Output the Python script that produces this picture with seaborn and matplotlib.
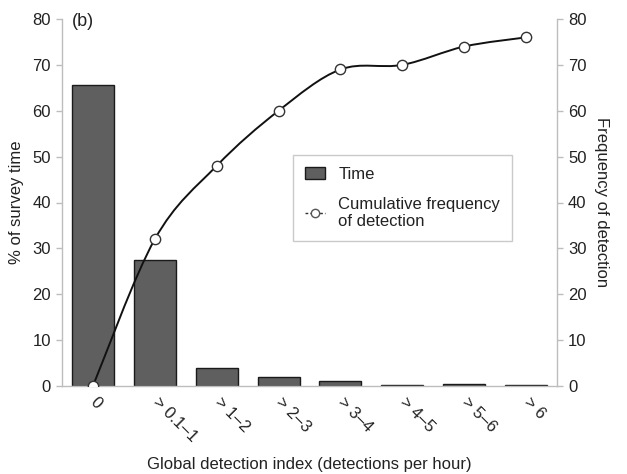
import numpy as np
import pandas as pd
import matplotlib
matplotlib.use("Agg")
import matplotlib.pyplot as plt
from matplotlib.path import Path
from matplotlib.patches import PathPatch, Patch
from matplotlib.lines import Line2D
import seaborn as sns

categories = ["0", "> 0.1\u20131", "> 1\u20132", "> 2\u20133", "> 3\u20134", "> 4\u20135", "> 5\u20136", "> 6"]
time_pct = [65.6, 27.4, 3.9, 1.9, 1.1, 0.2, 0.4, 0.2]
cum_freq = [0, 32, 48, 60, 69, 70, 74, 76]
y_ticks = [0, 10, 20, 30, 40, 50, 60, 70, 80]

sns.set_theme(style="white")
plt.rcParams["font.family"] = ["Liberation Sans", "DejaVu Sans"]
TXT = "#222222"
SPINE = "#bdbdbd"
FS = 12

fig = plt.figure(figsize=(6.27, 4.74), dpi=100)
ax = fig.add_axes([62/627, 1-386/474, 495/627, 367/474])

df = pd.DataFrame({"cat": categories, "time": time_pct})
sns.barplot(data=df, x="cat", y="time", ax=ax, color="#5f5f5f", width=0.68,
            edgecolor="#1a1a1a", linewidth=1.0, saturation=1)
ax.set_xlim(-0.5, len(categories) - 0.5)
ax.set_ylim(0, 80)
ax.set_yticks(y_ticks)
ax.set_yticklabels([str(v) for v in y_ticks], fontsize=FS, color=TXT)

ax.set_xticks(np.arange(len(categories)))
ax.set_xticklabels(categories, rotation=-45, ha="left", va="center",
                   rotation_mode="anchor", fontsize=FS, color=TXT)
ax.tick_params(axis="x", length=0, pad=10)
ax.set_xticks(np.arange(len(categories) + 1) - 0.5, minor=True)
ax.tick_params(axis="x", which="minor", length=4, width=1, color=SPINE, direction="inout")
ax.tick_params(axis="y", length=4, width=1, color=SPINE, direction="out", pad=4)

for s in ["top", "right"]:
    ax.spines[s].set_visible(False)
for s in ["left", "bottom"]:
    ax.spines[s].set_color(SPINE)
    ax.spines[s].set_linewidth(1)

ax.set_xlabel("Global detection index (detections per hour)", fontsize=FS, color=TXT)
ax.xaxis.set_label_coords(0.5, -0.215, transform=ax.transAxes)
ax.xaxis.label.set_va("center")
ax.set_ylabel("% of survey time", fontsize=FS, color=TXT, labelpad=6)
ax.text(0.02, 1.015, "(b)", transform=ax.transAxes, fontsize=13, color=TXT, va="top", ha="left")

ax2 = ax.twinx()
ax2.set_ylim(0, 80)
ax2.set_yticks(y_ticks)
ax2.set_yticklabels([str(v) for v in y_ticks], fontsize=FS, color=TXT)
ax2.tick_params(axis="y", length=4, width=1, color=SPINE, direction="out", pad=4)
for s in ["top", "left", "bottom"]:
    ax2.spines[s].set_visible(False)
ax2.spines["right"].set_color(SPINE)
ax2.spines["right"].set_linewidth(1)
ax2.set_ylabel("Frequency of detection", fontsize=FS, color=TXT, rotation=-90, labelpad=16)
ax2.grid(False)

# smoothed line (Bezier through the data points, Excel-like)
xs = np.arange(len(cum_freq), dtype=float)
ys = np.array(cum_freq, dtype=float)
pts = np.column_stack([xs, ys])
verts = [tuple(pts[0])]
codes = [Path.MOVETO]
n = len(pts)
for i in range(n - 1):
    p0 = pts[i - 1] if i > 0 else pts[i]
    p1 = pts[i]
    p2 = pts[i + 1]
    p3 = pts[i + 2] if i + 2 < n else pts[i + 1]
    c1 = p1 + (p2 - p0) / 6.0
    c2 = p2 - (p3 - p1) / 6.0
    verts += [tuple(c1), tuple(c2), tuple(p2)]
    codes += [Path.CURVE4] * 3
ax2.add_patch(PathPatch(Path(verts, codes), facecolor="none", edgecolor="#111111", lw=1.4, zorder=3))
sns.scatterplot(x=xs, y=ys, ax=ax2, marker="o", s=55, facecolor="white",
                edgecolor="#333333", linewidth=1.0, zorder=4, legend=False)
ax2.set_xlim(-0.5, len(categories) - 0.5)

handles = [Patch(facecolor="#5f5f5f", edgecolor="#1a1a1a", label="Time"),
           Line2D([0], [0], color="#333333", lw=1, ls=(0, (2, 1.5)), marker="o", markersize=6,
                  markerfacecolor="white", markeredgecolor="#555555",
                  label="Cumulative frequency\nof detection")]
leg = ax2.legend(handles=handles, loc="upper left", bbox_to_anchor=(0.467, 0.629),
                 fontsize=FS, frameon=True, fancybox=False, handlelength=1.2,
                 handleheight=0.7, borderpad=0.7, labelspacing=0.9, handletextpad=0.8,
                 borderaxespad=0)
leg.get_frame().set_edgecolor("#bdbdbd")
leg.get_frame().set_linewidth(1)
for t in leg.get_texts():
    t.set_color(TXT)

fig.savefig("out.png", dpi=100)
